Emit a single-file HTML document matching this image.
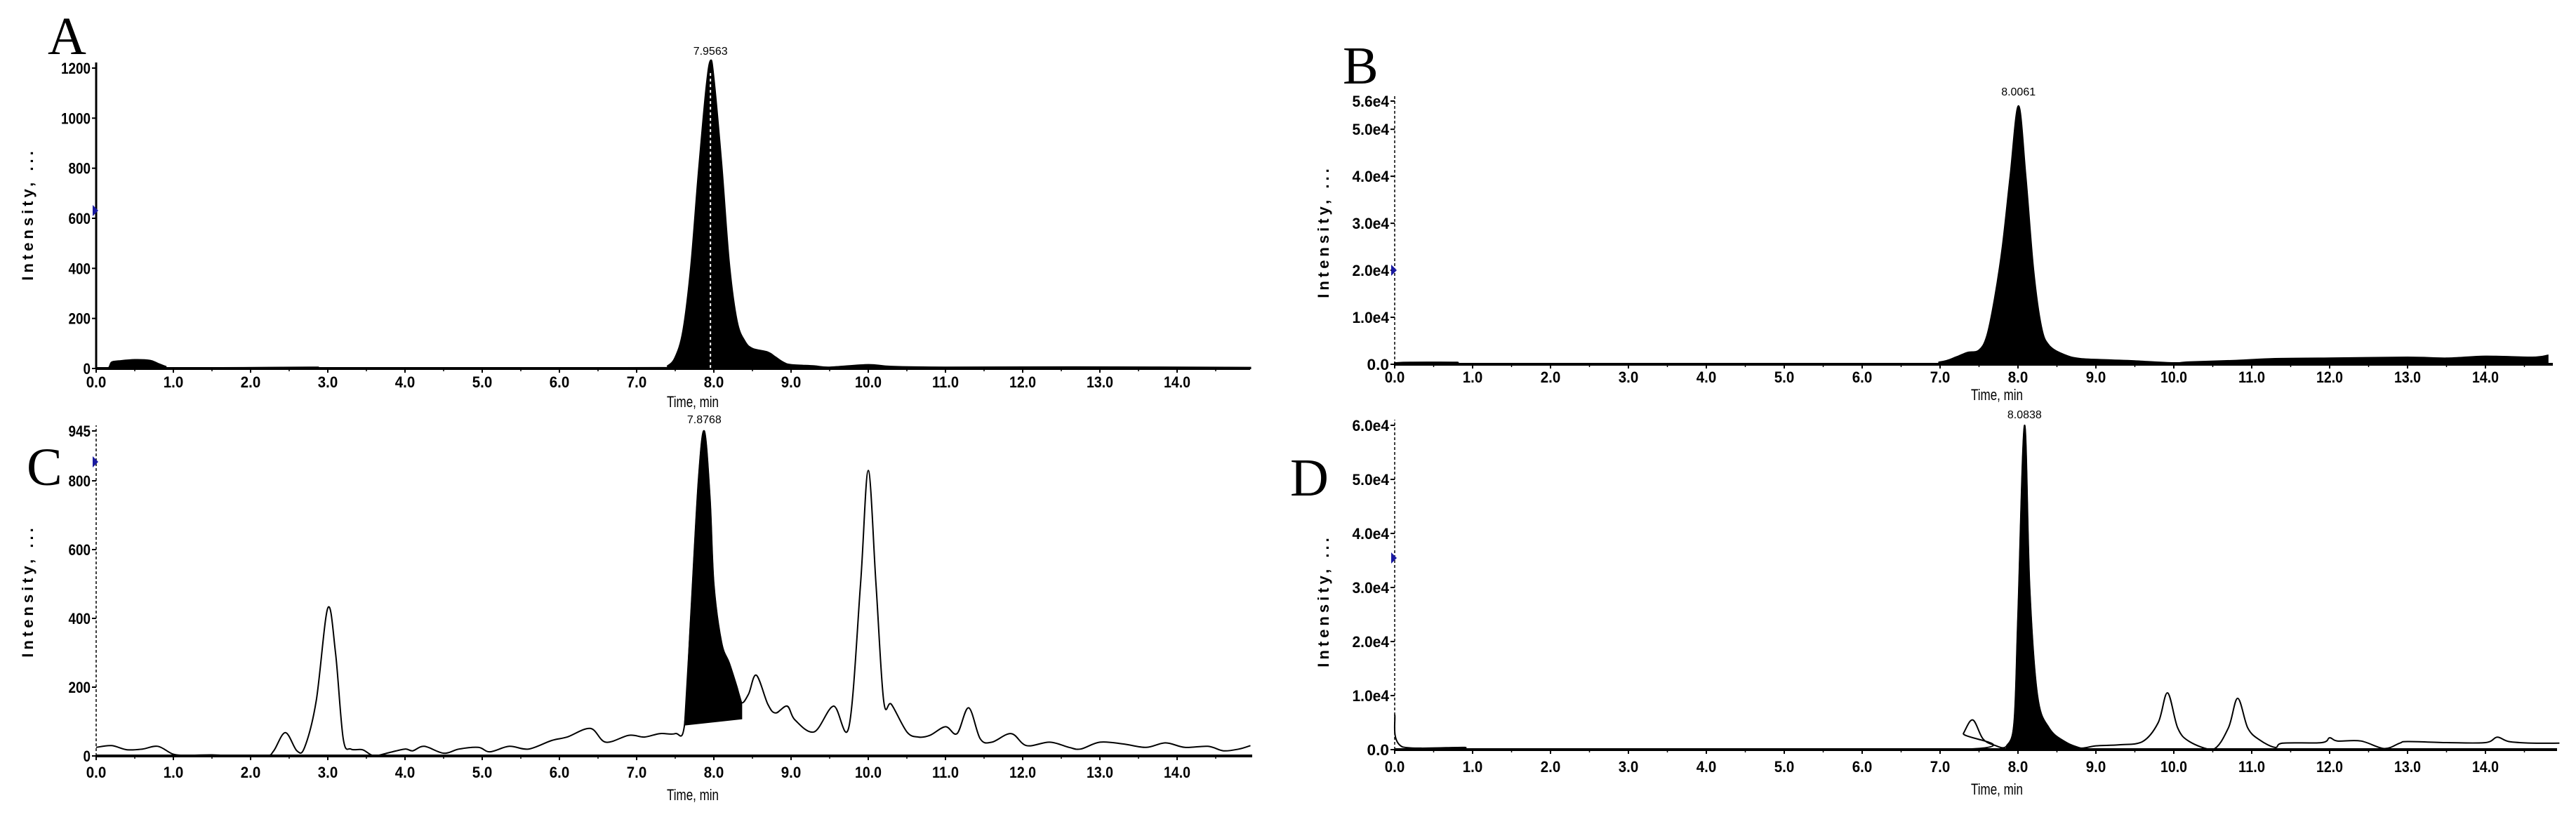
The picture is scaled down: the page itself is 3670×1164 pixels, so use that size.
<!DOCTYPE html>
<html><head><meta charset="utf-8">
<style>
html,body{margin:0;padding:0;background:#fff;}
svg{display:block;}
text{font-family:"Liberation Sans",sans-serif;fill:#000;}
.tick{font-size:22px;font-weight:bold;}
.letter{font-family:"Liberation Serif",serif;font-size:76px;}
.ylab{font-size:22px;font-weight:bold;letter-spacing:5px;}
.xlab{font-size:22px;}
.pk{font-size:16px;}
</style></head>
<body>
<svg id="fig" width="3670" height="1164" viewBox="0 0 3670 1164" xmlns="http://www.w3.org/2000/svg">
<text class="letter" x="68" y="77">A</text>
<text class="letter" x="1913" y="119">B</text>
<text class="letter" x="38" y="691">C</text>
<text class="letter" x="1838" y="706">D</text>
</svg>
<script>
// Panel A data
const aTimes = [0,0.15,0.2,0.3,0.5,0.7,0.8,0.9,1.0,2.8,3.0,7.3,7.4,7.5,7.6,7.7,7.8,7.9,7.956,8.0,8.1,8.2,8.3,8.4,8.5,8.7,8.8,8.9,9.0,9.3,9.5,10.0,10.3,11.0,12.7,15];
const aValues = [0,0,25,30,35,32,20,8,2,5,2,3,10,45,150,400,780,1120,1230,1160,820,420,190,110,80,65,45,25,15,10,5,15,8,5,6,4];
const aTicks = [0,200,400,600,800,1000,1200];
const aTickLabels = ["0","200","400","600","800","1000","1200"];
// Panel B data
const bTimes = [0,0.2,0.8,1.0,6.5,7.0,7.2,7.35,7.5,7.6,7.7,7.8,7.9,8.006,8.1,8.2,8.3,8.4,8.6,8.8,9.2,9.5,10.0,10.2,10.8,11.3,12.0,13.0,13.5,14.0,14.6,14.8];
const bValues = [300,400,400,0,0,500,1500,2500,3000,6000,14000,25000,40000,55000,40000,20000,8000,4000,2000,1200,900,700,300,500,800,1200,1300,1500,1300,1700,1500,1900];
const bTicks = [0,10000,20000,30000,40000,50000,56000];
const bTickLabels = ["0.0","1.0e4","2.0e4","3.0e4","4.0e4","5.0e4","5.6e4"];
// Panel C data
const cTimes = [0,0.2,0.4,0.6,0.8,1.0,1.2,1.5,1.8,2.2,2.3,2.45,2.6,2.7,2.85,3.0,3.1,3.2,3.3,3.45,3.6,3.8,4.0,4.1,4.25,4.5,4.7,4.95,5.1,5.35,5.6,5.9,6.1,6.4,6.6,6.9,7.1,7.3,7.5,7.62,7.7,7.8,7.876,7.95,8.0,8.1,8.2,8.3,8.36,8.45,8.55,8.7,8.8,8.95,9.05,9.3,9.55,9.75,9.9,10.0,10.1,10.2,10.3,10.5,10.65,10.8,11.0,11.15,11.3,11.45,11.6,11.85,12.05,12.35,12.6,12.75,13.0,13.3,13.6,13.85,14.1,14.4,14.6,14.8,14.95];
const cValues = [25,30,18,20,28,5,2,3,0,0,15,68,15,25,160,430,300,50,20,18,0,10,20,15,28,8,20,25,12,28,20,45,55,80,40,60,55,65,65,90,400,800,945,750,500,330,270,200,155,180,235,150,125,145,105,70,145,85,500,830,500,160,150,70,55,60,85,65,140,50,40,65,30,40,25,20,40,35,25,38,25,28,15,20,30];
const cFillStart = 7.62, cFillEnd = 8.36, cFillBase0 = 90, cFillBase1 = 108;
const cTicks = [0,200,400,600,800,945];
const cTickLabels = ["0","200","400","600","800","945"];
// Panel D data
const dTimes = [0,0.1,0.9,1.0,7.2,7.3,7.42,7.55,7.7,7.85,7.95,8.0,8.084,8.15,8.25,8.4,8.6,8.8,9.0,9.3,9.6,9.8,9.92,10.05,10.2,10.5,10.7,10.82,10.95,11.1,11.3,11.4,11.9,12.0,12.1,12.4,12.7,12.9,13.0,13.5,14.0,14.15,14.3,14.6,14.95];
const dValues = [6500,500,400,0,0,3000,5500,2000,800,600,5000,25000,60000,30000,10000,4000,1500,300,700,900,1500,5000,10500,4000,1500,0,4000,9500,4000,1800,400,1200,1300,2200,1600,1600,200,1200,1500,1300,1300,2300,1500,1200,1200];
const dFillStart = 7.85, dFillEnd = 8.9;
const dTicks = [0,10000,20000,30000,40000,50000,60000];
const dTickLabels = ["0.0","1.0e4","2.0e4","3.0e4","4.0e4","5.0e4","6.0e4"];
// shared x ticks
const xTicks = [0,1,2,3,4,5,6,7,8,9,10,11,12,13,14];
const xTickLabels = ["0.0","1.0","2.0","3.0","4.0","5.0","6.0","7.0","8.0","9.0","10.0","11.0","12.0","13.0","14.0"];
const peakLabels = ["7.9563","8.0061","7.8768","8.0838"];
const peakTimes = [7.956,8.006,7.876,8.084];

const NS = "http://www.w3.org/2000/svg";
const svg = document.getElementById("fig");
function mk(tag, attrs, parent){const e=document.createElementNS(NS,tag);for(const k in attrs)e.setAttribute(k,attrs[k]);(parent||svg).appendChild(e);return e;}

// smooth path through points (Catmull-Rom), clamped to baseline
function smooth(P, yMaxPix){
  let d = "M"+P[0][0].toFixed(1)+","+P[0][1].toFixed(1);
  for(let i=0;i<P.length-1;i++){
    const p0=P[Math.max(0,i-1)], p1=P[i], p2=P[i+1], p3=P[Math.min(P.length-1,i+2)];
    const c1x=p1[0]+(p2[0]-p0[0])/6, c1y=Math.min(yMaxPix,p1[1]+(p2[1]-p0[1])/6);
    const c2x=p2[0]-(p3[0]-p1[0])/6, c2y=Math.min(yMaxPix,p2[1]-(p3[1]-p1[1])/6);
    d+=" C"+c1x.toFixed(1)+","+c1y.toFixed(1)+" "+c2x.toFixed(1)+","+c2y.toFixed(1)+" "+p2[0].toFixed(1)+","+p2[1].toFixed(1);
  }
  return d;
}

function panel(p){
  const g = mk("g",{});
  
  
  const X = t => p.x0 + p.pxPerMin*t;
  const Y = v => p.y0 - (v/p.yMax)*(p.y0-p.yTop);
  const P = p.times.map((t,i)=>[X(Math.min(t,p.tEnd)),Y(p.values[i])]);
  const path = smooth(P, p.y0);
  if(p.filled){
    const area = mk("path",{d: "M"+P[0][0]+","+p.y0+" L"+path.slice(1)+" L"+P[P.length-1][0]+","+p.y0+" Z", fill:"#000", stroke:"#000","stroke-width":2},g);
    
    
  } else {
    if(p.fillStart!==undefined){
      const sub = P.filter((q,i)=>p.times[i]>=p.fillStart && p.times[i]<=p.fillEnd);
      const sp = smooth(sub, p.y0);
      const area = mk("path",{d: sp+" L"+X(p.fillEnd)+","+Y(p.base1)+" L"+X(p.fillStart)+","+Y(p.base0)+" Z",fill:"#000",stroke:"#000","stroke-width":1.5},g);
      
      
    }
    const line = mk("path",{d:path,fill:"none",stroke:"#000","stroke-width":2},g);
    
    
  }
  const xa = mk("line",{x1:p.x0,y1:p.y0,x2:p.xEnd,y2:p.y0,stroke:"#000","stroke-width":4},g);
  
  
  const ya = mk("line",{x1:p.x0,y1:p.y0,x2:p.x0,y2:p.yTop-8,stroke:"#000","stroke-width":p.dashedY?1.5:3,"stroke-dasharray":p.dashedY?"4,3":"none"},g);
  
  
  xTicks.forEach((t,i)=>{
    mk("line",{x1:X(t),y1:p.y0,x2:X(t),y2:p.y0+6,stroke:"#000","stroke-width":2},g);
    mk("line",{x1:X(t+0.5),y1:p.y0,x2:X(t+0.5),y2:p.y0+4,stroke:"#000","stroke-width":1.5},g);
    const tx = mk("text",{x:X(t),y:p.xLabY,"text-anchor":"middle",class:"tick",textLength:xTickLabels[i].length*9.5,lengthAdjust:"spacingAndGlyphs"},g);
    tx.textContent = xTickLabels[i];
    
    
  });
  p.ticks.forEach((v,i)=>{
    mk("line",{x1:p.x0-6,y1:Y(v),x2:p.x0,y2:Y(v),stroke:"#000","stroke-width":2},g);
    const tl = p.tickLabels[i];
    const ty = mk("text",{x:p.x0-8,y:Y(v)+8,"text-anchor":"end",class:"tick",textLength:tl.length*10.5,lengthAdjust:"spacingAndGlyphs"},g);
    ty.textContent = tl;
    
    
  });
  const xl = mk("text",{x:X(8)-30,y:p.xTitleY,"text-anchor":"middle",class:"xlab",textLength:74,lengthAdjust:"spacingAndGlyphs"},g);
  xl.textContent = "Time, min";
  
  
  const yl = mk("text",{x:0,y:0,"text-anchor":"middle",class:"ylab",transform:"translate("+p.yLabX+","+p.yLabY+") rotate(-90)"},g);
  yl.textContent = "Intensity, ...";
  
  
  const pk = mk("text",{x:X(p.peakT),y:p.peakLabY,"text-anchor":"middle",class:"pk"},g);
  pk.textContent = p.peakLabel;
  
  
  const mkr = mk("polygon",{points:(p.x0-5)+","+(p.markY-8)+" "+(p.x0+3)+","+p.markY+" "+(p.x0-5)+","+(p.markY+8),fill:"#1a1aa0"},g);
  
  
  if(p.whiteDash){
    mk("line",{x1:X(p.peakT),y1:Y(1180),x2:X(p.peakT),y2:p.y0,stroke:"#fff","stroke-width":2,"stroke-dasharray":"4,4"},g);
  }
}

panel({name:"panel-a",times:aTimes,values:aValues,ticks:aTicks,tickLabels:aTickLabels,filled:true,
  x0:137,pxPerMin:110,xEnd:1781,tEnd:14.95,y0:525,yTop:97,yMax:1200,xLabY:552,xTitleY:580,yLabX:47,yLabY:305,
  peakT:peakTimes[0],peakLabel:peakLabels[0],peakLabY:78,markY:300,whiteDash:true});
panel({name:"panel-b",times:bTimes,values:bValues,ticks:bTicks,tickLabels:bTickLabels,filled:true,
  x0:1987,pxPerMin:111,xEnd:3637,tEnd:14.8,y0:519,yTop:144,yMax:56000,xLabY:545,xTitleY:570,yLabX:1893,yLabY:330,
  peakT:peakTimes[1],peakLabel:peakLabels[1],peakLabY:136,markY:385,dashedY:true});
panel({name:"panel-c",times:cTimes,values:cValues,ticks:cTicks,tickLabels:cTickLabels,filled:false,
  fillStart:cFillStart,fillEnd:cFillEnd,base0:cFillBase0,base1:cFillBase1,
  x0:137,pxPerMin:110,xEnd:1784,tEnd:14.95,y0:1077,yTop:614,yMax:945,xLabY:1108,xTitleY:1140,yLabX:47,yLabY:842,
  peakT:peakTimes[2],peakLabel:peakLabels[2],peakLabY:603,markY:658,dashedY:true});
panel({name:"panel-d",times:dTimes,values:dValues,ticks:dTicks,tickLabels:dTickLabels,filled:false,
  fillStart:dFillStart,fillEnd:dFillEnd,base0:0,base1:0,
  x0:1987,pxPerMin:111,xEnd:3643,tEnd:14.95,y0:1068,yTop:606,yMax:60000,xLabY:1100,xTitleY:1132,yLabX:1893,yLabY:856,
  peakT:peakTimes[3],peakLabel:peakLabels[3],peakLabY:596,markY:795,dashedY:true});
</script>
</body></html>
